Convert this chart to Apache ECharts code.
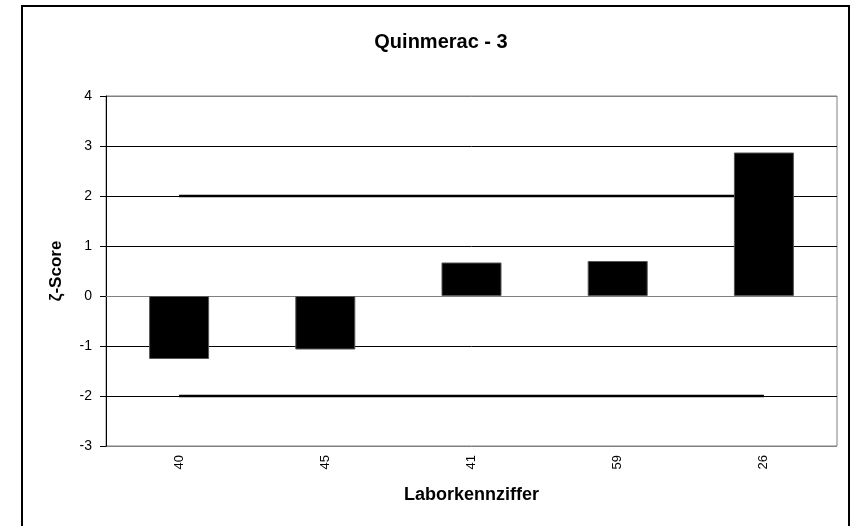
<!DOCTYPE html>
<html><head><meta charset="utf-8">
<script src="https://cdn.jsdelivr.net/npm/echarts@6/dist/echarts.min.js"></script>
<style>html,body{margin:0;padding:0;background:#fff}#c{width:852px;height:526px}</style>
</head><body><div id="c"></div>
<script>
const categories = ['40', '45', '41', '59', '26'];
const zScores = [-1.26, -1.07, 0.67, 0.70, 2.87];
const upperLimit = [2, 2, 2, 2, 2];
const lowerLimit = [-2, -2, -2, -2, -2];
const yTicks = [-3, -2, -1, 0, 1, 2, 3, 4];

const chart = echarts.init(document.getElementById('c'), null, {renderer: 'canvas'});
const F = 'Arial, "Liberation Sans", sans-serif';
chart.setOption({
  animation: false,
  backgroundColor: '#fff',
  title: {
    text: 'Quinmerac - 3', left: 436, top: 27, textAlign: 'center',
    textStyle: {fontFamily: F, fontSize: 20, fontWeight: 'bold', color: '#000'}
  },
  graphic: [{
    type: 'rect', shape: {x: 22, y: 6, width: 827, height: 530},
    style: {fill: 'none', stroke: '#000', lineWidth: 2}, silent: true, z: -1
  }],
  grid: {left: 106, top: 96, width: 731, height: 350, show: true, borderColor: '#808080', borderWidth: 1, backgroundColor: '#fff'},
  xAxis: {
    type: 'category', data: categories,
    name: 'Laborkennziffer', nameLocation: 'middle', nameGap: 40,
    nameTextStyle: {fontFamily: F, fontSize: 18, fontWeight: 'bold', color: '#000'},
    axisLine: {show: true, lineStyle: {color: '#808080'}},
    axisTick: {show: false},
    axisLabel: {rotate: 90, margin: 9, fontFamily: F, fontSize: 13, color: '#000'}
  },
  yAxis: {
    type: 'value', min: yTicks[0], max: yTicks[yTicks.length - 1], interval: 1,
    name: 'ζ-Score', nameLocation: 'middle', nameGap: 41, nameRotate: 90,
    nameTextStyle: {fontFamily: F, fontSize: 17, fontWeight: 'bold', color: '#000'},
    axisLine: {show: true, lineStyle: {color: '#000'}},
    axisTick: {show: true, length: 6, lineStyle: {color: '#000'}},
    axisLabel: {margin: 14, fontFamily: F, fontSize: 14, color: '#000'},
    splitLine: {show: true, lineStyle: {color: ['#808080', '#000', '#000', '#555', '#000', '#000', '#000', '#808080'], width: 1}}
  },
  series: [
    {type: 'line', data: upperLimit, symbol: 'none', lineStyle: {color: '#000', width: 2.5}, z: 1},
    {type: 'line', data: lowerLimit, symbol: 'none', lineStyle: {color: '#000', width: 2.5}, z: 1},
    {type: 'bar', data: zScores, barWidth: 60, itemStyle: {color: '#000', borderColor: '#555', borderWidth: 1}, z: 2}
  ]
});
</script></body></html>
